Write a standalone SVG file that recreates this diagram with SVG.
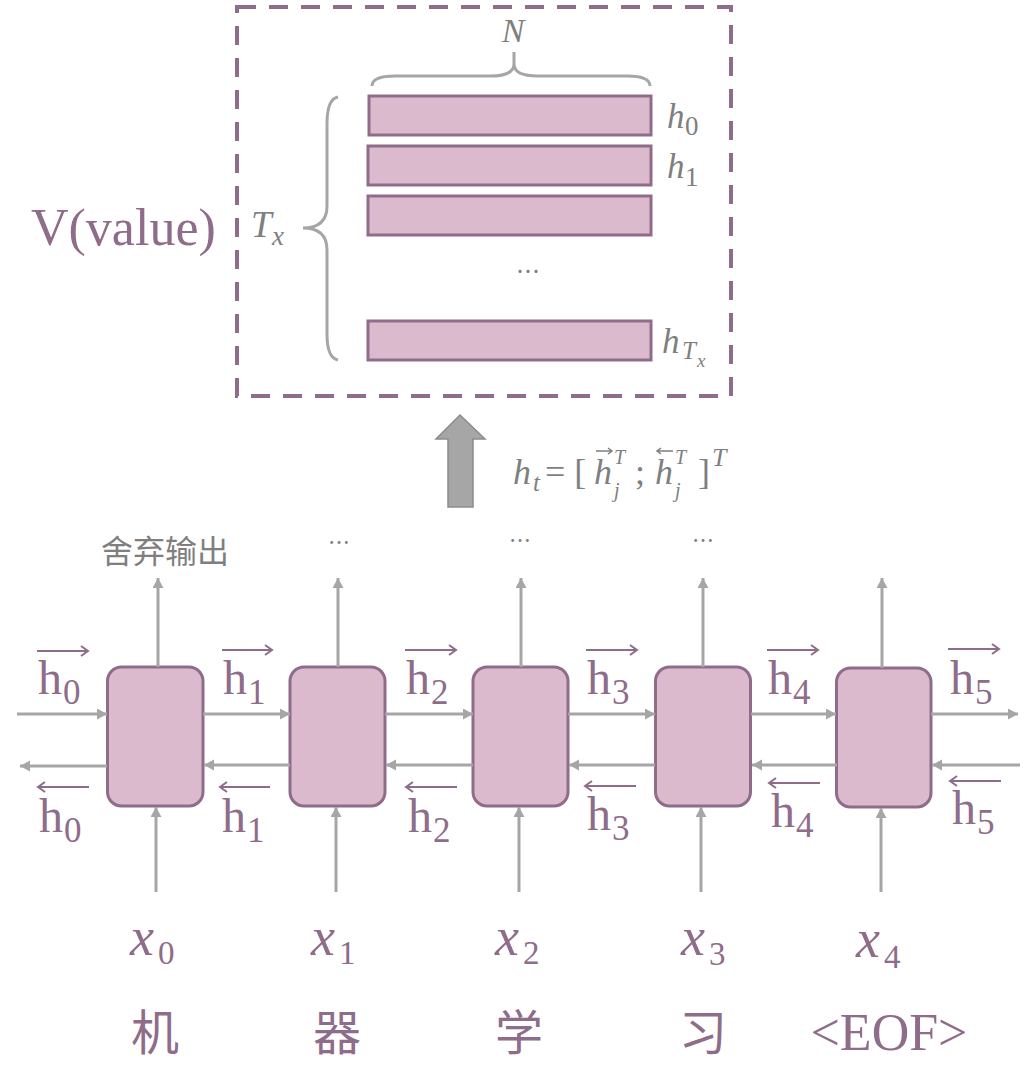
<svg xmlns="http://www.w3.org/2000/svg" width="1032" height="1090" viewBox="0 0 1032 1090">
<style>
.cell{fill:#DBBACE;stroke:#8E6C8A;stroke-width:3}
.row{fill:#DBBACE;stroke:#8E6C8A;stroke-width:3}
.conn{stroke:#A6A6A6;stroke-width:3;fill:none}
.brace{stroke:#A6A6A6;stroke-width:3;fill:none}
.ov{stroke:#8E6C8A;stroke-width:2;fill:none}
.ovg{stroke:#7F7F7F;stroke-width:1.5;fill:none}
.hl{font-family:"Liberation Serif",serif;font-size:48px;fill:#8E6C8A}
.hs{font-size:35px}
.xl{font-family:"Liberation Serif",serif;font-style:italic;font-size:54px;fill:#8E6C8A}
.xs{font-style:normal;font-size:33px}
.cjk{font-family:"Noto Sans CJK SC",sans-serif;font-size:48px;fill:#8E6C8A}
.gm{font-family:"Liberation Serif",serif;font-style:italic;fill:#7F7F7F}
.gray{font-family:"Noto Sans CJK SC",sans-serif;fill:#7F7F7F}
</style>
<defs>
<marker id="ah" markerUnits="userSpaceOnUse" markerWidth="12" markerHeight="12" refX="10" refY="5.5" orient="auto">
<path d="M0,0 L10,5.5 L0,11 z" fill="#A6A6A6"/>
</marker>
</defs>

<g id="value-box">
<rect x="237" y="7" width="494" height="389" fill="none" stroke="#8E6C8A" stroke-width="4" stroke-dasharray="19 13"/>
<text x="31" y="245" font-family="Liberation Serif,serif" font-size="52" fill="#8E6C8A">V(value)</text>
<rect class="row" x="369" y="96" width="282" height="39"/>
<rect class="row" x="368" y="146" width="283" height="39"/>
<rect class="row" x="368" y="196" width="283" height="39"/>
<rect class="row" x="368" y="321" width="283" height="39"/>
<text class="gray" x="528" y="280" font-size="24" text-anchor="middle">…</text>
<path class="brace" d="M372,86 Q372,76 395,76 L490,76 Q514,76 514,64 L514,52 M514,64 Q514,76 538,76 L627,76 Q650,76 650,86"/>
<path class="brace" d="M338,97 Q327,99 327,124 L327,206 Q327,228 303,228 Q327,228 327,250 L327,334 Q327,358 338,360"/>
<text class="gm" x="513" y="42" font-size="34" text-anchor="middle">N</text>
<text class="gm" x="251" y="237" font-size="37">T<tspan x="272" y="245" font-size="27">x</tspan></text>
<text class="gm" x="667" y="128" font-size="35">h<tspan x="685" y="135" font-size="27" font-style="normal">0</tspan></text>
<text class="gm" x="667" y="178" font-size="35">h<tspan x="685" y="186" font-size="27" font-style="normal">1</tspan></text>
<text class="gm" x="662" y="353" font-size="35">h<tspan x="682" y="359" font-size="25">T</tspan><tspan x="697" y="367" font-size="19">x</tspan></text>
</g>

<g id="summary-arrow">
<polygon points="460,415 485,439 473,439 473,507 448,507 448,439 436,439" fill="#A6A6A6" stroke="#8C8C8C" stroke-width="1.5"/>
<text class="gm" font-size="36" x="513" y="484">h<tspan x="533" y="491" font-size="25">t</tspan><tspan x="545" y="484" font-style="normal">= [</tspan><tspan x="594" y="484">h</tspan><tspan x="614" y="464" font-size="20">T</tspan><tspan x="614" y="497" font-size="20">j</tspan><tspan x="635" y="484" font-style="normal">;</tspan><tspan x="655" y="484">h</tspan><tspan x="675" y="464" font-size="20">T</tspan><tspan x="675" y="497" font-size="20">j</tspan><tspan x="698" y="484" font-style="normal">]</tspan><tspan x="712" y="466" font-size="26">T</tspan></text>
<path class="ovg" d="M596,451 L612,451 M608,448 L612,451 L608,454"/>
<path class="ovg" d="M657,451 L673,451 M661,448 L657,451 L661,454"/>
</g>

<g id="cell0"><rect class="cell" x="107.5" y="667" width="95.5" height="139" rx="14"/></g>
<g id="cell1"><rect class="cell" x="290" y="667" width="95" height="139" rx="14"/></g>
<g id="cell2"><rect class="cell" x="473" y="667" width="95" height="139" rx="14"/></g>
<g id="cell3"><rect class="cell" x="655.5" y="667" width="95" height="139" rx="14"/></g>
<g id="cell4"><rect class="cell" x="836.5" y="668" width="94.5" height="139" rx="14"/></g>

<g id="connectors">
<line class="conn" x1="17" y1="714" x2="107" y2="714" marker-end="url(#ah)"/>
<line class="conn" x1="203" y1="714" x2="290" y2="714" marker-end="url(#ah)"/>
<line class="conn" x1="385" y1="714" x2="473" y2="714" marker-end="url(#ah)"/>
<line class="conn" x1="568" y1="714" x2="655" y2="714" marker-end="url(#ah)"/>
<line class="conn" x1="751" y1="714" x2="836" y2="714" marker-end="url(#ah)"/>
<line class="conn" x1="931" y1="714" x2="1018" y2="714" marker-end="url(#ah)"/>
<line class="conn" x1="107" y1="766" x2="20" y2="766" marker-end="url(#ah)"/>
<line class="conn" x1="290" y1="765" x2="204" y2="765" marker-end="url(#ah)"/>
<line class="conn" x1="473" y1="765" x2="386" y2="765" marker-end="url(#ah)"/>
<line class="conn" x1="655" y1="765" x2="569" y2="765" marker-end="url(#ah)"/>
<line class="conn" x1="837" y1="765" x2="752" y2="765" marker-end="url(#ah)"/>
<line class="conn" x1="1020" y1="765" x2="932" y2="765" marker-end="url(#ah)"/>
<line class="conn" x1="158" y1="667" x2="158" y2="578" marker-end="url(#ah)"/>
<line class="conn" x1="338" y1="667" x2="338" y2="578" marker-end="url(#ah)"/>
<line class="conn" x1="521" y1="667" x2="521" y2="578" marker-end="url(#ah)"/>
<line class="conn" x1="703" y1="667" x2="703" y2="578" marker-end="url(#ah)"/>
<line class="conn" x1="882" y1="668" x2="882" y2="578" marker-end="url(#ah)"/>
<line class="conn" x1="156" y1="892" x2="156" y2="807" marker-end="url(#ah)"/>
<line class="conn" x1="336" y1="892" x2="336" y2="807" marker-end="url(#ah)"/>
<line class="conn" x1="519" y1="892" x2="519" y2="807" marker-end="url(#ah)"/>
<line class="conn" x1="701" y1="892" x2="701" y2="807" marker-end="url(#ah)"/>
<line class="conn" x1="881" y1="892" x2="881" y2="808" marker-end="url(#ah)"/>
</g>

<g id="outputs">
<text class="gray" x="101" y="563" font-size="32">舍弃输出</text>
<text class="gray" x="339" y="550" font-size="22" text-anchor="middle">…</text>
<text class="gray" x="520" y="548" font-size="22" text-anchor="middle">…</text>
<text class="gray" x="703" y="548" font-size="22" text-anchor="middle">…</text>
</g>

<g id="hidden-labels">
<text class="hl" x="38" y="694">h<tspan class="hs" x="63" y="704">0</tspan></text>
<text class="hl" x="223" y="694">h<tspan class="hs" x="248" y="704">1</tspan></text>
<text class="hl" x="406" y="694">h<tspan class="hs" x="431" y="704">2</tspan></text>
<text class="hl" x="587" y="694">h<tspan class="hs" x="612" y="704">3</tspan></text>
<text class="hl" x="768" y="694">h<tspan class="hs" x="793" y="704">4</tspan></text>
<text class="hl" x="950" y="694">h<tspan class="hs" x="975" y="704">5</tspan></text>
<path class="ov" d="M37,651 L88,651 M81,646 L88,651 L81,656"/>
<path class="ov" d="M222,650 L272,650 M265,645 L272,650 L265,655"/>
<path class="ov" d="M405,650 L456,650 M449,645 L456,650 L449,655"/>
<path class="ov" d="M586,650 L637,650 M630,645 L637,650 L630,655"/>
<path class="ov" d="M767,650 L818,650 M811,645 L818,650 L811,655"/>
<path class="ov" d="M948,649 L999,649 M992,644 L999,649 L992,654"/>
<text class="hl" x="39" y="832">h<tspan class="hs" x="64" y="842">0</tspan></text>
<text class="hl" x="222" y="832">h<tspan class="hs" x="247" y="842">1</tspan></text>
<text class="hl" x="408" y="832">h<tspan class="hs" x="433" y="842">2</tspan></text>
<text class="hl" x="587" y="830">h<tspan class="hs" x="612" y="840">3</tspan></text>
<text class="hl" x="771" y="827">h<tspan class="hs" x="796" y="837">4</tspan></text>
<text class="hl" x="952" y="824">h<tspan class="hs" x="977" y="834">5</tspan></text>
<path class="ov" d="M38,787 L89,787 M45,782 L38,787 L45,792"/>
<path class="ov" d="M220,787 L270,787 M227,782 L220,787 L227,792"/>
<path class="ov" d="M406,787 L457,787 M413,782 L406,787 L413,792"/>
<path class="ov" d="M585,786 L636,786 M592,781 L585,786 L592,791"/>
<path class="ov" d="M769,783 L820,783 M776,778 L769,783 L776,788"/>
<path class="ov" d="M950,781 L1001,781 M957,776 L950,781 L957,786"/>
</g>

<g id="inputs">
<text class="xl" x="130" y="955">x<tspan class="xs" x="158" y="964">0</tspan></text>
<text class="xl" x="311" y="955">x<tspan class="xs" x="339" y="964">1</tspan></text>
<text class="xl" x="495" y="955">x<tspan class="xs" x="523" y="964">2</tspan></text>
<text class="xl" x="681" y="955">x<tspan class="xs" x="709" y="965">3</tspan></text>
<text class="xl" x="856" y="957">x<tspan class="xs" x="884" y="968">4</tspan></text>
<text class="cjk" x="155" y="1050" text-anchor="middle">机</text>
<text class="cjk" x="337" y="1050" text-anchor="middle">器</text>
<text class="cjk" x="519" y="1050" text-anchor="middle">学</text>
<text class="cjk" x="703" y="1050" text-anchor="middle">习</text>
<text x="889" y="1050" font-family="Liberation Serif,serif" font-size="52" fill="#8E6C8A" text-anchor="middle">&lt;EOF&gt;</text>
</g>
</svg>
